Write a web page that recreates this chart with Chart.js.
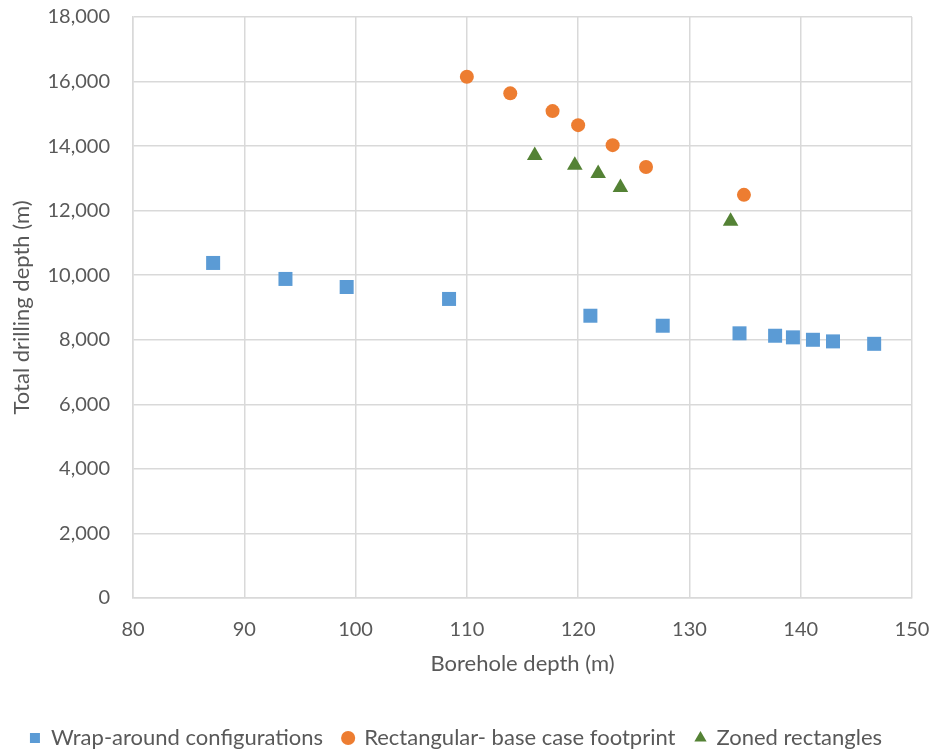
<!DOCTYPE html>
<html>
<head>
<meta charset="utf-8">
<script src="https://cdn.jsdelivr.net/npm/chart.js@4.4.1/dist/chart.umd.min.js"></script>
<style>
  html, body { margin: 0; padding: 0; background: #fff; }
  #wrap { width: 934px; height: 752px; }
</style>
</head>
<body>
<div id="wrap"><canvas id="chart" width="934" height="752"></canvas></div>
<script>
// ---- data ----
const seriesNames = ["Wrap-around configurations", "Rectangular- base case footprint", "Zoned rectangles"];

const wrapX = [87.2, 93.7, 99.2, 108.4, 121.1, 127.6, 134.5, 137.7, 139.3, 141.1, 142.9, 146.6];
const wrapY = [10380, 9885, 9635, 9265, 8745, 8435, 8200, 8125, 8075, 8000, 7950, 7875];

const rectX = [110.0, 113.9, 117.7, 120.0, 123.1, 126.1, 134.9];
const rectY = [16150, 15635, 15085, 14650, 14030, 13355, 12490];

const zonedX = [116.1, 119.7, 121.8, 123.8, 133.7];
const zonedY = [13710, 13405, 13155, 12720, 11675];

const xTicks = { min: 80, max: 150, step: 10 };
const yTicks = { min: 0, max: 18000, step: 2000 };

const toPoints = (xs, ys) => xs.map((x, i) => ({ x, y: ys[i] }));

const textColor = "#595959";
const gridColor = "#d9d9d9";
const fontFamily = "Lato, 'Open Sans', sans-serif";

const ctx = document.getElementById("chart").getContext("2d");
new Chart(ctx, {
  type: "scatter",
  data: {
    datasets: [
      {
        label: seriesNames[0],
        data: toPoints(wrapX, wrapY),
        pointStyle: "rect",
        pointRadius: 9.9,
        pointHoverRadius: 9.9,
        backgroundColor: "#5B9BD5",
        borderColor: "#5B9BD5",
        borderWidth: 0
      },
      {
        label: seriesNames[1],
        data: toPoints(rectX, rectY),
        pointStyle: "circle",
        pointRadius: 7,
        pointHoverRadius: 7,
        backgroundColor: "#ED7D31",
        borderColor: "#ED7D31",
        borderWidth: 0
      },
      {
        label: seriesNames[2],
        data: toPoints(zonedX, zonedY),
        pointStyle: "triangle",
        pointRadius: 9,
        pointHoverRadius: 9,
        backgroundColor: "#548235",
        borderColor: "#548235",
        borderWidth: 0
      }
    ]
  },
  options: {
    responsive: false,
    animation: false,
    layout: { padding: { top: 17, right: 22, bottom: -7, left: 0 } },
    plugins: {
      tooltip: { enabled: false },
      legend: {
        position: "bottom",
        labels: {
          usePointStyle: true,
          boxWidth: 10,
          boxHeight: 10,
          padding: 20,
          color: textColor,
          font: { family: fontFamily, size: 22 }
        }
      }
    },
    scales: {
      x: {
        type: "linear",
        min: xTicks.min,
        max: xTicks.max,
        ticks: {
          stepSize: xTicks.step,
          color: textColor,
          padding: 0,
          font: { family: fontFamily, size: 20 }
        },
        // invisible tick marks push the labels away from the axis
        grid: { color: gridColor, lineWidth: 1.5, drawTicks: true, tickLength: 20, tickColor: "rgba(0,0,0,0)" },
        border: { color: gridColor, width: 1.5 },
        title: {
          display: true,
          text: "Borehole depth (m)",
          color: textColor,
          padding: { top: 0, bottom: 30 },
          font: { family: fontFamily, size: 22 }
        },
        afterFit: (s) => { s.height = 109; }
      },
      y: {
        type: "linear",
        min: yTicks.min,
        max: yTicks.max,
        ticks: {
          stepSize: yTicks.step,
          color: textColor,
          padding: 0,
          font: { family: fontFamily, size: 20 },
          callback: (v) => v.toLocaleString("en-US")
        },
        grid: { color: gridColor, lineWidth: 1.5, drawTicks: true, tickLength: 23, tickColor: "rgba(0,0,0,0)" },
        border: { color: gridColor, width: 1.5 },
        title: {
          display: true,
          text: "Total drilling depth (m)",
          color: textColor,
          padding: { top: 9, bottom: 9 },
          font: { family: fontFamily, size: 22 }
        },
        afterFit: (s) => { s.width = 133; }
      }
    }
  }
});
</script>
</body>
</html>
